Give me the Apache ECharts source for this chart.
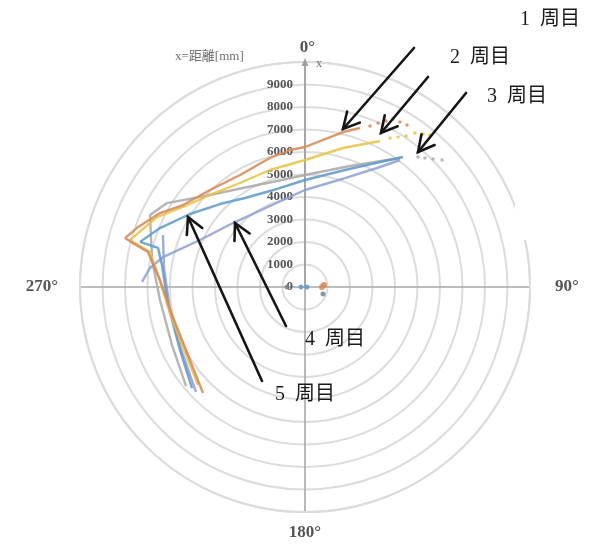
<!DOCTYPE html>
<html>
<head>
<meta charset="utf-8">
<script src="https://cdn.jsdelivr.net/npm/echarts@6/dist/echarts.min.js"></script>
<style>
  html, body { margin: 0; padding: 0; background: #fff; }
  #chart { width: 597px; height: 547px; }
</style>
</head>
<body>
<div id="chart"></div>
<script>
// Measured distance x [mm] against heading angle [deg], one path per lap.
// Each point is [distance, angle].
const lap1Lower = [[6538, 223.9], [6014, 239.8], [6040, 258.1], [6452, 272.8], [7150, 282.6], [7890, 284.3], [8290, 285.2]];
const lap1Upper = [[8290, 285.2], [7914, 289.4], [7235, 297.0], [6533, 303.9], [6035, 315.6], [5755, 329.9], [5941, 344.8], [6125, 353.8], [6222, 0], [7093, 13.8], [7477, 19.1]];
const lap1Tail  = [[7716, 22.0], [7978, 24.0], [8209, 26.0], [8430, 27.6], [8462, 29.9], [8508, 32.2]];

const lap2Lower = [[6449, 227.5], [6063, 242.5], [6110, 259.1], [6555, 274.7], [7062, 282.7], [7805, 284.5], [8053, 285.0]];
const lap2Upper = [[8053, 285.0], [7276, 295.3], [6484, 303.3], [5877, 314.1], [5450, 328.0], [5428, 343.3], [5644, 0], [6405, 15.3], [7295, 27.2]];
const lap2Tail  = [[7624, 29.7], [7844, 31.8], [8075, 33.8], [8411, 35.5], [8587, 37.6], [8747, 39.4]];

const lap3Lower = [[6880, 230.2], [6449, 246.4], [6470, 264.9], [6905, 280.0], [7596, 294.9]];
const lap3Upper = [[7596, 294.9], [7180, 301.3], [6009, 312.3], [5192, 327.9], [4872, 345.2], [4978, 0], [5738, 20.4], [7120, 36.4]];
const lap3Tail  = [[7655, 41.0], [7830, 42.9], [8045, 45.0], [8303, 47.2]];

const lap4Lower = [[6726, 226.1], [6183, 242.1], [6086, 260.3], [6324, 277.7], [6721, 290.1]];
const lap4Upper = [[7248, 271.8], [6941, 277.0], [6450, 281.9], [5112, 294.1], [4281, 311.6], [3921, 336.6], [4311, 0], [5160, 20.2], [6289, 32.0], [7049, 36.8]];

const lap5Lower = [[6736, 228.2], [6221, 243.3], [6141, 262.5], [6430, 278.7], [6760, 284.9], [7601, 285.3]];
const lap5Upper = [[7601, 285.3], [6957, 292.1], [6054, 302.4], [5280, 314.3], [4770, 326.0], [4530, 344.1], [4756, 0], [5496, 18.9], [6479, 31.0], [7235, 37.0]];

// readings near the origin
const originOrange = [[756, 90], [849, 84]];
const originBlue   = [[178, 270], [89, 90]];
const originGray   = [[800, 270], [858, 111]];

// axis texts
const ringLabels  = ['0', '1000', '2000', '3000', '4000', '5000', '6000', '7000', '8000', '9000'];
const angleLabels = ['0°', '90°', '180°', '270°'];
const lapLabels   = ['1\u2002周目', '2\u2002周目', '3\u2002周目', '4\u2002周目', '5\u2002周目'];

const colors = {
  lap1: '#DB8756',
  lap2: '#E8C445',
  lap3: '#ABABAB',
  lap4: '#8EA0D6',
  lap5: '#609ACD',
  dark: '#7A808C'
};

function pathSeries(data, color, z) {
  return {
    type: 'line', coordinateSystem: 'polar', data: data,
    symbol: 'none', silent: true, z: z,
    lineStyle: { color: color, width: 2.4, opacity: 0.88 }
  };
}
function dotSeries(data, color, size, z) {
  return {
    type: 'scatter', coordinateSystem: 'polar', data: data,
    symbolSize: size, silent: true, z: z,
    itemStyle: { color: color, opacity: 0.85 }
  };
}

// annotation arrows: label position, arrow tail and tip (px)
const notes = [
  { text: lapLabels[0], at: [520, 20],  tail: [414, 48],  tip: [343, 129] },
  { text: lapLabels[1], at: [450, 58],  tail: [428, 77],  tip: [381, 133] },
  { text: lapLabels[2], at: [487, 97],  tail: [466, 93],  tip: [418, 152] },
  { text: lapLabels[3], at: [305, 340], tail: [286, 326], tip: [235, 223] },
  { text: lapLabels[4], at: [275, 395], tail: [262, 381], tip: [188, 217] }
];

function arrowGraphics(n) {
  const dx = n.tip[0] - n.tail[0], dy = n.tip[1] - n.tail[1];
  const a = Math.atan2(dy, dx);
  const len = 18, spread = 28 * Math.PI / 180;
  const p1 = [n.tip[0] - len * Math.cos(a - spread), n.tip[1] - len * Math.sin(a - spread)];
  const p2 = [n.tip[0] - len * Math.cos(a + spread), n.tip[1] - len * Math.sin(a + spread)];
  const stroke = { stroke: '#151515', lineWidth: 2.6, fill: null, lineCap: 'round', lineJoin: 'miter' };
  return [
    { type: 'polyline', z: 100, shape: { points: [n.tail, n.tip] }, style: stroke },
    { type: 'polyline', z: 100, shape: { points: [p1, n.tip, p2] }, style: stroke },
    { type: 'text', z: 100, x: n.at[0], y: n.at[1],
      style: { text: n.text, fill: '#1a1a1a', font: '20px "Liberation Serif", "Noto Sans CJK JP"', verticalAlign: 'middle', align: 'left' } }
  ];
}

const graphics = [
  { type: 'rect', z: 90, shape: { x: 515, y: 0, width: 82, height: 240 }, style: { fill: '#ffffff' } },
  { type: 'text', z: 100, x: 175, y: 57,
    style: { text: 'x=距離[mm]', fill: '#707070', font: '13px "Liberation Serif", "Noto Sans CJK JP"', verticalAlign: 'middle' } },
  { type: 'text', z: 100, x: 316, y: 64,
    style: { text: 'x', fill: '#707070', font: '12px "Liberation Serif"', verticalAlign: 'middle' } }
];
notes.forEach(n => graphics.push(...arrowGraphics(n)));

const angleLabelBase = { fontFamily: 'Liberation Serif', fontSize: 17, fontWeight: 'bold', color: '#555' };

const chart = echarts.init(document.getElementById('chart'), null, { renderer: 'canvas' });
chart.setOption({
  backgroundColor: '#ffffff',
  animation: false,
  polar: { center: [305, 287], radius: 225 },
  angleAxis: {
    type: 'value', min: 0, max: 360, interval: 90,
    startAngle: 90, clockwise: true,
    axisLine: { show: true, lineStyle: { color: '#dcdcdc', width: 2 } },
    axisTick: { show: false },
    splitLine: { show: true, lineStyle: { color: '#a8a8a8', width: 1.6 } },
    axisLabel: {
      margin: 6,
      formatter: function (v) {
        const i = v / 90;
        return i < 4 ? '{a' + i + '|' + angleLabels[i] + '}' : '';
      },
      rich: {
        a0: Object.assign({ padding: [0, 0, 0, 5] }, angleLabelBase),
        a1: Object.assign({ padding: [0, 0, 0, 19] }, angleLabelBase),
        a2: Object.assign({ padding: [6, 0, 0, 0] }, angleLabelBase),
        a3: Object.assign({ padding: [0, 16, 0, 0] }, angleLabelBase)
      }
    }
  },
  radiusAxis: {
    type: 'value', min: 0, max: 10000, interval: 1000,
    axisLine: { show: true, symbol: ['none', 'triangle'], symbolSize: [7, 8], lineStyle: { color: '#a0a0a0', width: 1.6 } },
    axisTick: { show: false },
    splitLine: { show: true, lineStyle: { color: '#dcdcdc', width: 2 } },
    axisLabel: {
      margin: 12,
      fontFamily: 'Liberation Serif', fontSize: 13, fontWeight: 'bold', color: '#555',
      formatter: function (v, i) { return ringLabels[i] !== undefined ? ringLabels[i] : ''; }
    }
  },
  graphic: graphics,
  series: [
    pathSeries(lap3Lower, colors.lap3, 2),
    pathSeries(lap3Upper, colors.lap3, 2),
    dotSeries(lap3Tail, colors.lap3, 3.5, 2),
    pathSeries(lap4Lower, colors.lap4, 3),
    pathSeries(lap4Upper, colors.lap4, 3),
    pathSeries(lap5Lower, colors.lap5, 4),
    pathSeries(lap5Upper, colors.lap5, 4),
    pathSeries(lap2Lower, colors.lap2, 5),
    pathSeries(lap2Upper, colors.lap2, 5),
    dotSeries(lap2Tail, colors.lap2, 3.5, 5),
    pathSeries(lap1Lower, colors.lap1, 6),
    pathSeries(lap1Upper, colors.lap1, 6),
    dotSeries(lap1Tail, colors.lap1, 3.5, 6),
    dotSeries(originGray, colors.dark, 5, 7),
    dotSeries(originBlue, colors.lap5, 5, 7),
    dotSeries(originOrange, colors.lap1, 6, 7)
  ]
});
</script>
</body>
</html>
